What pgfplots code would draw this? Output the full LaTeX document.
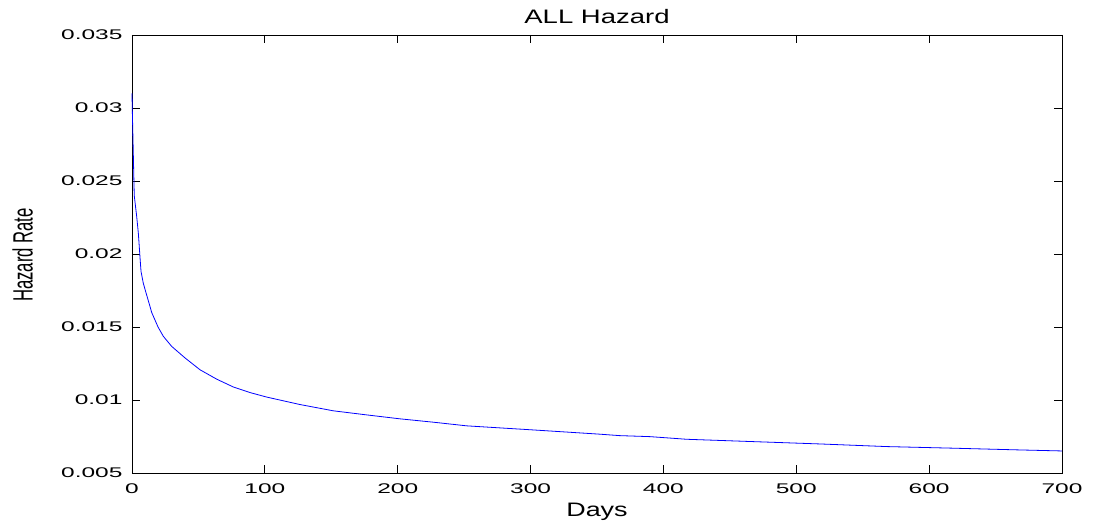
\documentclass[border=0pt]{standalone}
\usepackage{graphicx}
\usepackage{fontspec}
\setmainfont{Liberation Sans}
\usepackage{pgfplots}
\pgfplotsset{compat=1.18}
\usepackage{pgfplotstable}
\pgfplotstableread{
x y
0 0.0310
0.2 0.0300
1.7 0.0240
3.5 0.0226
4.8 0.0214
6.0 0.0198
6.8 0.0188
8.5 0.0180
10.5 0.01736
13.5 0.01642
14.8 0.0160
19.6 0.0150
23.6 0.01436
29.9 0.01367
39.8 0.01289
51.2 0.01207
63.7 0.01143
76.3 0.01089
88.8 0.01051
101.4 0.01020
126.4 0.00969
151.5 0.00926
176.6 0.00898
201.7 0.00871
226.8 0.00848
251.9 0.00823
302 0.00795
352 0.00766
367 0.00756
390 0.00749
417.5 0.00731
467.5 0.00715
517.8 0.00699
568 0.00681
618 0.00670
668 0.00658
700 0.00651
}\hazard
\newcommand{\tk}[1]{{\fontsize{14bp}{16bp}\selectfont\scalebox{1.75}[1]{#1}}}
\begin{document}
\begin{tikzpicture}
\begin{axis}[
  at={(0,0)}, anchor=south west,
  scale only axis, width=930bp, height=438bp,
  xmin=0, xmax=700, ymin=0.005, ymax=0.035,
  xtick={0,100,...,700},
  xticklabels={\tk{0},\tk{100},\tk{200},\tk{300},\tk{400},\tk{500},\tk{600},\tk{700}},
  ytick={0.005,0.01,0.015,0.02,0.025,0.03,0.035},
  yticklabels={\tk{0.005},\tk{0.01},\tk{0.015},\tk{0.02},\tk{0.025},\tk{0.03},\tk{0.035}},
  scaled y ticks=false,
  tick align=inside, tick pos=both,
  major tick length=8bp,
  minor tick num=0,
  axis line style={line width=0.8bp, black},
  tick style={line width=0.8bp, black},
  xticklabel style={anchor=north, inner sep=0pt, yshift=-11bp},
  yticklabel style={anchor=east, inner sep=0pt, xshift=-9.3bp},
  clip=false,
]
\addplot[color={rgb,255:red,0;green,0;blue,255}, line width=0.8bp] table[x=x,y=y] {\hazard};
\end{axis}
\node[anchor=base] at (465bp,449.7bp) {\fontsize{19.5bp}{22bp}\selectfont\scalebox{1.41}[1]{ALL Hazard}};
\node[anchor=base] at (465bp,-43.7bp) {\fontsize{19.5bp}{22bp}\selectfont\scalebox{1.38}[1]{Days}};
\node[anchor=base, rotate=90] at (-99.3bp,218bp) {\fontsize{16.7bp}{19bp}\selectfont\scalebox{1}[1.67]{Hazard Rate}};
\pgfresetboundingbox
\path[use as bounding box] (-132bp,-56bp) rectangle (962bp,473bp);
\end{tikzpicture}
\end{document}
